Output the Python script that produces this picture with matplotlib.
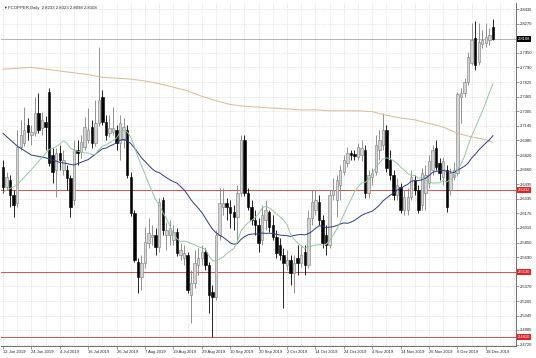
import matplotlib
matplotlib.use('Agg')
import matplotlib.pyplot as plt
import numpy as np
import pandas as pd
from matplotlib.transforms import blended_transform_factory

# ---------------- data ----------------
opens = [2.669, 2.647, 2.654, 2.638, 2.629, 2.691, 2.695, 2.715, 2.704, 2.706,
         2.729, 2.712, 2.719, 2.752, 2.682, 2.666, 2.684, 2.666, 2.666, 2.657,
         2.632, 2.688, 2.685, 2.691, 2.699, 2.713, 2.695, 2.717, 2.746, 2.719,
         2.706, 2.708, 2.710, 2.695, 2.699, 2.710, 2.658, 2.618, 2.564, 2.547,
         2.563, 2.585, 2.591, 2.594, 2.580, 2.632, 2.594, 2.594, 2.588, 2.597,
         2.572, 2.568, 2.572, 2.527, 2.541, 2.560, 2.568, 2.575, 2.560, 2.531,
         2.525, 2.594, 2.625, 2.629, 2.625, 2.619, 2.614, 2.640, 2.699, 2.640,
         2.625, 2.610, 2.605, 2.588, 2.610, 2.619, 2.605, 2.591, 2.583, 2.572,
         2.560, 2.566, 2.552, 2.568, 2.563, 2.575, 2.560, 2.612, 2.621, 2.630,
         2.610, 2.594, 2.583, 2.638, 2.632, 2.649, 2.663, 2.673, 2.684, 2.683,
         2.680, 2.682, 2.688, 2.640, 2.658, 2.663, 2.688, 2.693, 2.710, 2.677,
         2.660, 2.638, 2.647, 2.621, 2.621, 2.636, 2.654, 2.643, 2.627, 2.640,
         2.651, 2.666, 2.690, 2.673, 2.658, 2.666, 2.643, 2.658, 2.662, 2.746,
         2.751, 2.763, 2.784, 2.811, 2.785, 2.805, 2.806, 2.809, 2.8233]
highs = [2.677, 2.663, 2.660, 2.643, 2.710, 2.721, 2.735, 2.723, 2.715, 2.746,
         2.751, 2.730, 2.725, 2.756, 2.690, 2.690, 2.693, 2.688, 2.671, 2.660,
         2.699, 2.699, 2.704, 2.724, 2.734, 2.721, 2.743, 2.802, 2.754, 2.726,
         2.726, 2.735, 2.715, 2.726, 2.723, 2.715, 2.663, 2.621, 2.568, 2.572,
         2.602, 2.612, 2.605, 2.601, 2.635, 2.636, 2.608, 2.610, 2.605, 2.601,
         2.585, 2.583, 2.575, 2.555, 2.577, 2.579, 2.583, 2.579, 2.564, 2.538,
         2.599, 2.646, 2.646, 2.635, 2.632, 2.627, 2.649, 2.704, 2.704, 2.646,
         2.632, 2.621, 2.612, 2.627, 2.632, 2.621, 2.616, 2.599, 2.590, 2.579,
         2.577, 2.572, 2.572, 2.583, 2.583, 2.583, 2.621, 2.643, 2.643, 2.638,
         2.616, 2.605, 2.643, 2.657, 2.660, 2.671, 2.682, 2.691, 2.688, 2.688,
         2.695, 2.699, 2.693, 2.666, 2.668, 2.704, 2.710, 2.729, 2.715, 2.688,
         2.666, 2.657, 2.651, 2.643, 2.646, 2.666, 2.660, 2.649, 2.668, 2.671,
         2.682, 2.693, 2.699, 2.679, 2.680, 2.671, 2.668, 2.674, 2.752, 2.756,
         2.767, 2.796, 2.828, 2.830, 2.828, 2.820, 2.828, 2.823, 2.8323]
lows = [2.640, 2.643, 2.625, 2.614, 2.624, 2.688, 2.692, 2.699, 2.693, 2.703,
        2.706, 2.704, 2.688, 2.670, 2.651, 2.636, 2.666, 2.660, 2.643, 2.614,
        2.627, 2.671, 2.679, 2.688, 2.695, 2.690, 2.692, 2.714, 2.715, 2.699,
        2.702, 2.704, 2.688, 2.677, 2.690, 2.657, 2.615, 2.564, 2.529, 2.533,
        2.557, 2.579, 2.583, 2.572, 2.575, 2.594, 2.577, 2.583, 2.583, 2.570,
        2.566, 2.560, 2.529, 2.496, 2.535, 2.549, 2.560, 2.555, 2.507, 2.481,
        2.522, 2.588, 2.616, 2.610, 2.601, 2.599, 2.588, 2.637, 2.637, 2.621,
        2.605, 2.594, 2.575, 2.583, 2.599, 2.597, 2.588, 2.568, 2.566, 2.513,
        2.555, 2.538, 2.529, 2.549, 2.558, 2.549, 2.557, 2.605, 2.616, 2.605,
        2.579, 2.572, 2.579, 2.632, 2.614, 2.632, 2.660, 2.669, 2.677, 2.677,
        2.677, 2.675, 2.635, 2.635, 2.649, 2.660, 2.677, 2.688, 2.663, 2.654,
        2.632, 2.632, 2.618, 2.616, 2.616, 2.632, 2.638, 2.618, 2.621, 2.621,
        2.646, 2.660, 2.666, 2.654, 2.649, 2.619, 2.638, 2.654, 2.659, 2.717,
        2.746, 2.760, 2.782, 2.776, 2.782, 2.800, 2.802, 2.804, 2.8098]
closes = [2.647, 2.658, 2.638, 2.627, 2.691, 2.704, 2.710, 2.708, 2.708, 2.729,
          2.710, 2.721, 2.713, 2.673, 2.663, 2.684, 2.677, 2.677, 2.657, 2.625,
          2.688, 2.684, 2.696, 2.713, 2.710, 2.695, 2.717, 2.743, 2.719, 2.704,
          2.712, 2.712, 2.695, 2.717, 2.713, 2.660, 2.618, 2.566, 2.547, 2.563,
          2.586, 2.596, 2.594, 2.580, 2.630, 2.599, 2.599, 2.601, 2.597, 2.574,
          2.577, 2.574, 2.533, 2.541, 2.563, 2.568, 2.575, 2.560, 2.527, 2.525,
          2.594, 2.629, 2.629, 2.625, 2.618, 2.614, 2.640, 2.699, 2.640, 2.625,
          2.610, 2.605, 2.585, 2.616, 2.621, 2.602, 2.591, 2.574, 2.572, 2.563,
          2.566, 2.552, 2.563, 2.563, 2.572, 2.560, 2.612, 2.630, 2.632, 2.610,
          2.585, 2.583, 2.638, 2.643, 2.654, 2.666, 2.677, 2.684, 2.682, 2.681,
          2.691, 2.690, 2.640, 2.660, 2.662, 2.693, 2.699, 2.710, 2.668, 2.660,
          2.638, 2.649, 2.621, 2.636, 2.636, 2.658, 2.643, 2.621, 2.662, 2.660,
          2.675, 2.688, 2.669, 2.662, 2.675, 2.625, 2.662, 2.666, 2.749, 2.751,
          2.763, 2.790, 2.809, 2.782, 2.807, 2.809, 2.813, 2.815, 2.8108]

date_labels = ['12 Jun 2019', '24 Jun 2019', '4 Jul 2019', '16 Jul 2019',
               '26 Jul 2019', '7 Aug 2019', '19 Aug 2019', '29 Aug 2019',
               '10 Sep 2019', '20 Sep 2019', '2 Oct 2019', '14 Oct 2019',
               '24 Oct 2019', '4 Nov 2019', '14 Nov 2019', '26 Nov 2019',
               '6 Dec 2019', '18 Dec 2019']
price_ticks = [2.8435, 2.8270, 2.8108, 2.7950, 2.7790, 2.7625, 2.7465, 2.7305,
               2.7145, 2.6985, 2.6820, 2.6660, 2.6495, 2.6335, 2.6175, 2.6015,
               2.5850, 2.5690, 2.5530, 2.5370, 2.5205, 2.5045, 2.4885, 2.4720]
level_lines = [2.6432, 2.5530, 2.4810]
last_price = 2.8108
title_values = ['2.8233', '2.8323', '2.8098', '2.8108']

# slow moving average (long history), read at every 4th bar
ma_slow_idx = list(range(0, 137, 4)) + [138]
ma_slow = [2.777, 2.778, 2.779, 2.777, 2.775, 2.773, 2.771, 2.768, 2.767, 2.766,
           2.764, 2.761, 2.757, 2.753, 2.747, 2.742, 2.738, 2.736, 2.735, 2.734,
           2.733, 2.732, 2.732, 2.731, 2.731, 2.731, 2.730, 2.726, 2.723, 2.721,
           2.717, 2.713, 2.706, 2.702, 2.699, 2.696]
# lead-in parts of the faster averages (history before the first bar)
ma_mid_head_idx = [0, 4, 8, 12, 16, 20, 24, 28]
ma_mid_head = [2.706, 2.692, 2.682, 2.679, 2.674, 2.671, 2.677, 2.689]
ma_fast_head_idx = [0, 4, 8, 12]
ma_fast_head = [2.641, 2.649, 2.666, 2.684]
fast_period = 14
mid_period = 30

# ---------------- figure ----------------
plt.rcParams['font.family'] = ['Liberation Sans', 'DejaVu Sans']
W, H = 536, 358
fig = plt.figure(figsize=(W / 100, H / 100), dpi=100)
ax = fig.add_axes([1 / W, 12 / H, 515 / W, 343 / H])
ax.set_facecolor('white')

o = np.array(opens); h = np.array(highs); l = np.array(lows); c = np.array(closes)
n = len(c)
x = np.arange(n)
up = c >= o

ax.set_xlim(-0.56, 144.5)
ax.set_ylim(2.4708, 2.8502)

# grid
for p in price_ticks:
    ax.axhline(p, color='#cfcfcf', lw=0.5, ls=(0, (1, 1.5)), zorder=0)
for i in range(0, 145, 4):
    ax.axvline(i, color='#cfcfcf', lw=0.5, ls=(0, (1, 1.5)), zorder=0)

# horizontal levels
for lv in level_lines:
    ax.axhline(lv, color='#d9534f', lw=0.7, zorder=1)
ax.axhline(last_price, color='#b4b4b4', lw=0.7, zorder=1)

# candles
ax.vlines(x[up], l[up], h[up], color='#808080', lw=0.6, zorder=2)
ax.vlines(x[~up], l[~up], h[~up], color='#000000', lw=0.6, zorder=2)
ax.bar(x[up], (c - o)[up], bottom=o[up], width=0.68, color='#d4d4d4',
       edgecolor='#7a7a7a', lw=0.4, zorder=3)
ax.bar(x[~up], (o - c)[~up], bottom=c[~up], width=0.68, color='#000000',
       edgecolor='#000000', lw=0.4, zorder=3)

# moving averages
cs = pd.Series(closes)
fast = cs.rolling(fast_period).mean()
mid = cs.rolling(mid_period).mean()
fx = ma_fast_head_idx + list(range(fast_period - 1, n))
fy = ma_fast_head + list(fast.iloc[fast_period - 1:])
mx = ma_mid_head_idx + list(range(mid_period - 1, n))
my = ma_mid_head + list(mid.iloc[mid_period - 1:])
ax.plot(ma_slow_idx, ma_slow, color='#dcbc98', lw=0.75, zorder=4)
ax.plot(mx, my, color='#2e3b88', lw=0.7, zorder=4)
ax.plot(fx, fy, color='#93c8a0', lw=0.7, zorder=4)

# axes styling
for s in ['top', 'left']:
    ax.spines[s].set_visible(False)
for s in ['right', 'bottom']:
    ax.spines[s].set_color('#707070')
    ax.spines[s].set_linewidth(0.7)

ax.yaxis.tick_right()
shown = [p for p in price_ticks if p not in level_lines and p != last_price]
ax.set_yticks(shown)
ax.set_yticklabels([f'{p:.4f}' for p in shown])
ax.tick_params(axis='y', length=2, width=0.5, color='#707070', pad=1,
               labelsize=3.0, labelcolor='#222222')

ax.set_xticks(list(range(0, 8 * len(date_labels), 8)))
ax.set_xticklabels(date_labels, ha='left')
ax.tick_params(axis='x', length=2, width=0.5, color='#707070', pad=1,
               labelsize=3.0, labelcolor='#222222')

tr = blended_transform_factory(ax.transAxes, ax.transData)
for lv in level_lines:
    ax.text(1.003, lv, f'{lv:.4f}', transform=tr, ha='left', va='center',
            fontsize=3.0, color='white', zorder=10, clip_on=False,
            bbox=dict(boxstyle='square,pad=0.25', fc='#e02424', ec='none'))
ax.text(1.003, last_price, f'{last_price:.4f}', transform=tr, ha='left',
        va='center', fontsize=3.0, color='white', zorder=10, clip_on=False,
        bbox=dict(boxstyle='square,pad=0.25', fc='#000000', ec='none'))

fig.text(3 / W, 1 - 8 / H, '\u25bc', fontsize=2.6, color='#222222',
         va='center', ha='left')
fig.text(8 / W, 1 - 8 / H, 'FCOPPER,Daily  ' + ' '.join(title_values),
         fontsize=3.1, color='#222222', va='center', ha='left')

fig.savefig('out.png', dpi=100, facecolor='white')
